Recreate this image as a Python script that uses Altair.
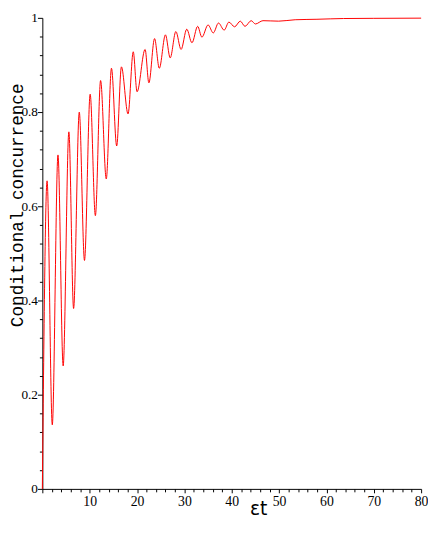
import altair as alt
import pandas as pd

# Values (extremes of the damped oscillation)
t_vals = [0, 1.0, 2.1, 3.3, 4.4, 5.6, 6.6, 7.8, 8.9, 10.1, 11.2, 12.3, 13.5, 14.6,
          15.7, 16.7, 18.1, 19.2, 20.0, 21.7, 22.5, 23.7, 24.7, 26.0, 27.0, 28.2,
          29.3, 30.5, 31.6, 32.8, 33.7, 35.0, 36.1, 37.2, 38.4, 39.4, 40.6, 41.8,
          42.8, 44.1, 45.0, 46.6, 49.9, 53.4, 58.0, 63.6, 70.0, 80.0]
c_vals = [0.0, 0.654, 0.136, 0.709, 0.261, 0.758, 0.383, 0.800, 0.485, 0.838,
          0.580, 0.867, 0.658, 0.893, 0.728, 0.896, 0.796, 0.928, 0.843, 0.933,
          0.862, 0.956, 0.893, 0.964, 0.915, 0.971, 0.933, 0.976, 0.947, 0.982,
          0.959, 0.985, 0.968, 0.989, 0.974, 0.991, 0.981, 0.993, 0.982, 0.994,
          0.987, 0.994, 0.993, 0.996, 0.997, 0.9986, 0.999, 0.9994]

x_ticks = list(range(0, 81, 2))
y_ticks = [round(i * 0.04, 2) for i in range(26)]

df = pd.DataFrame({"t": t_vals, "c": c_vals})

x_axis = alt.Axis(
    values=x_ticks,
    title="εt",
    labelExpr="(datum.value % 10 == 0 && datum.value != 0) ? datum.label : ''",
    labelFont="Liberation Sans Narrow",
    labelFontSize=14,
    labelColor="black",
    labelPadding=2,
    labelOverlap=False,
    labelFlush=False,
    tickSize={"condition": {"test": "datum.value % 10 == 0", "value": 4}, "value": 3},
    tickColor="black",
    domainColor="black",
    grid=False,
    titleFont="DejaVu Sans",
    titleFontSize=19,
    titleFontWeight="normal",
    titleColor="black",
    titleX=220,
    titleY=26,
    titleAlign="center",
    titleBaseline="alphabetic",
)

y_axis = alt.Axis(
    values=y_ticks,
    title="Conditional concurrence",
    labelExpr="abs(datum.value*5 - round(datum.value*5)) < 0.001 ? format(datum.value, '~g') : ''",
    labelFont="Liberation Sans Narrow",
    labelFontSize=13.5,
    labelColor="black",
    labelPadding=0,
    labelOverlap=False,
    labelFlush=False,
    tickSize={"condition": {"test": "abs(datum.value*5 - round(datum.value*5)) < 0.001", "value": 5}, "value": 3},
    tickColor="black",
    domainColor="black",
    grid=False,
    titleFont="Liberation Mono",
    titleFontSize=18,
    titleFontWeight="normal",
    titleColor="black",
    titleAngle=270,
    titleX=-20,
    titleY=190.5,
    titleAlign="center",
    titleBaseline="alphabetic",
)

chart = (
    alt.Chart(df)
    .mark_line(color="#ff0000", strokeWidth=1, interpolate="monotone")
    .encode(
        x=alt.X("t:Q", scale=alt.Scale(domain=[0, 80], nice=False), axis=x_axis),
        y=alt.Y("c:Q", scale=alt.Scale(domain=[0, 1], nice=False), axis=y_axis),
    )
    .properties(
        width=386,
        height=480,
        autosize=alt.AutoSizeParams(type="none"),
        padding={"left": 35, "top": 5, "right": 7, "bottom": 45},
        background="white",
    )
    .configure_view(stroke=None)
)

chart.save("out.html", embed_options={"renderer": "svg", "actions": False})
